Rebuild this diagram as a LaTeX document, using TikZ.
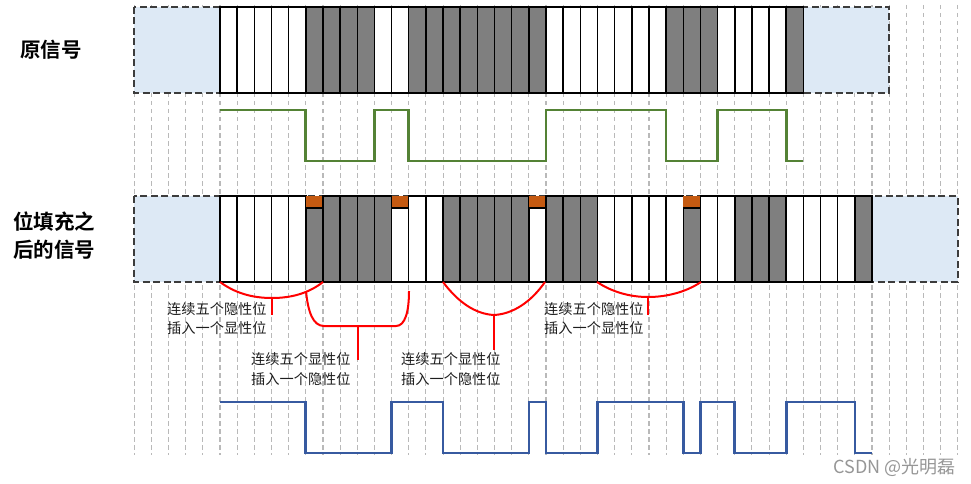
\documentclass[tikz,border=0pt]{standalone}
\usepackage{fontspec}
\newfontfamily\cjk{Noto Sans CJK SC}[BoldFont={Noto Sans CJK SC Bold}]
\definecolor{bitgray}{RGB}{127,127,127}
\definecolor{stufforange}{RGB}{197,90,17}
\definecolor{boxblue}{RGB}{221,233,245}
\definecolor{framegray}{RGB}{60,60,60}
\definecolor{gridc}{RGB}{185,185,185}
\definecolor{wavegreen}{RGB}{84,130,53}
\definecolor{waveblue}{RGB}{55,90,160}
\definecolor{labelc}{RGB}{30,30,30}
\definecolor{markc}{RGB}{150,150,150}
\begin{document}
\begin{tikzpicture}[x=1pt,y=-1pt,
  gridline/.style={draw=gridc, line width=1.1pt, dash pattern=on 4.5pt off 3.5pt},
  frame/.style={draw=framegray, fill=boxblue, line width=2pt, dash pattern=on 7pt off 3.5pt},
  bit1/.style={draw=black, line width=1.5pt, fill=white},
  bit0/.style={draw=black, line width=1.5pt, fill=bitgray},
  stuffcap/.style={fill=stufforange},
  wave/.style={line width=2.6pt, line join=miter},
  brace/.style={draw=red, line width=2pt},
  lbl/.style={font=\cjk\fontsize{14.2}{19.5}\selectfont, align=left, inner sep=0pt, text=labelc, anchor=west},
  title/.style={font=\cjk\bfseries\fontsize{20.5}{28}\selectfont, align=left, inner sep=0pt, anchor=west, text=black}]
\useasboundingbox (0,0) rectangle (971,484);

\begin{scope}[shift={(220pt,0pt)}, x=17.158pt]
  % grid lines
  \foreach \k in {-5,...,43} \draw[gridline] (\k,5) -- (\k,455);
  % top row
  \draw[frame] (-5,7) rectangle (39,93);
  \foreach \b [count=\i from 0] in {1,1,1,1,1,0,0,0,0,1,1,0,0,0,0,0,0,0,0,1,1,1,1,1,1,1,0,0,0,1,1,1,1,0}
    \draw[bit\b] (\i,7) rectangle ++(1,86);
  % green waveform
  \draw[wave, wavegreen] (0,110) -- (5,110) -- (5,161) -- (9,161) -- (9,110) -- (11,110) -- (11,161)
    -- (19,161) -- (19,110) -- (26,110) -- (26,161) -- (29,161) -- (29,110) -- (33,110) -- (33,161) -- (34,161);
  % bottom row
  \draw[frame] (-5,196) rectangle (43,282);
  \foreach \b/\s [count=\i from 0] in {1/0,1/0,1/0,1/0,1/0,0/1,0/0,0/0,0/0,0/0,1/1,1/0,1/0,
      0/0,0/0,0/0,0/0,0/0,1/1,0/0,0/0,0/0,1/0,1/0,1/0,1/0,1/0,0/1,1/0,1/0,0/0,0/0,0/0,1/0,1/0,1/0,1/0,0/0}{
    \ifnum\s=1
      \fill[stuffcap] (\i,196) rectangle ++(1,12);
      \draw[bit\b] (\i,208) rectangle ++(1,74);
    \else
      \draw[bit\b] (\i,196) rectangle ++(1,86);
    \fi
  }
  % blue waveform
  \draw[wave, waveblue] (0,402) -- (5,402) -- (5,453) -- (10,453) -- (10,402) -- (13,402) -- (13,453)
    -- (18,453) -- (18,402) -- (19,402) -- (19,453) -- (22,453) -- (22,402) -- (27,402) -- (27,453)
    -- (28,453) -- (28,402) -- (30,402) -- (30,453) -- (33,453) -- (33,402) -- (37,402) -- (37,453) -- (38,453);
\end{scope}

% titles
\node[title] (t1) at (20,50) {原信号};
\node[title] (t2) at (13,236) {位填充之\\后的信号};

% labels
\node[lbl] (l1) at (167,318.5) {连续五个隐性位\\插入一个显性位};
\node[lbl] (l2) at (251,369) {连续五个显性位\\插入一个隐性位};
\node[lbl] (l3) at (401,369) {连续五个显性位\\插入一个隐性位};
\node[lbl] (l4) at (544,318.5) {连续五个隐性位\\插入一个显性位};

% braces
\coordinate (b1) at (272,298);
\coordinate (b2) at (358,326);
\coordinate (b3) at (494,315);
\coordinate (b4) at (648,297);
\draw[brace] (220,282) .. controls (235,293) and (252,298) .. (b1) .. controls (292,298) and (309,293) .. (323,282);
\draw[brace] (b1) -- ++(0,17);
\draw[brace] (306,291) .. controls (308,312) and (313,326) .. (324,326) -- (396,326) .. controls (405,326) and (409,312) .. (409,291);
\draw[brace] (b2) -- ++(0,34);
\draw[brace] (443,282) .. controls (458,302) and (475,314) .. (b3) .. controls (513,314) and (531,302) .. (545,282);
\draw[brace] (b3) -- ++(0,35);
\draw[brace] (597,282) .. controls (612,292) and (630,297) .. (b4) .. controls (667,297) and (686,292) .. (701,282);
\draw[brace] (b4) -- ++(0,18);

% watermark
\node[font=\cjk\fontsize{18}{20}\selectfont, text=markc, inner sep=0pt, anchor=east] (wm) at (956,467) {CSDN @光明磊};
\end{tikzpicture}
\end{document}
